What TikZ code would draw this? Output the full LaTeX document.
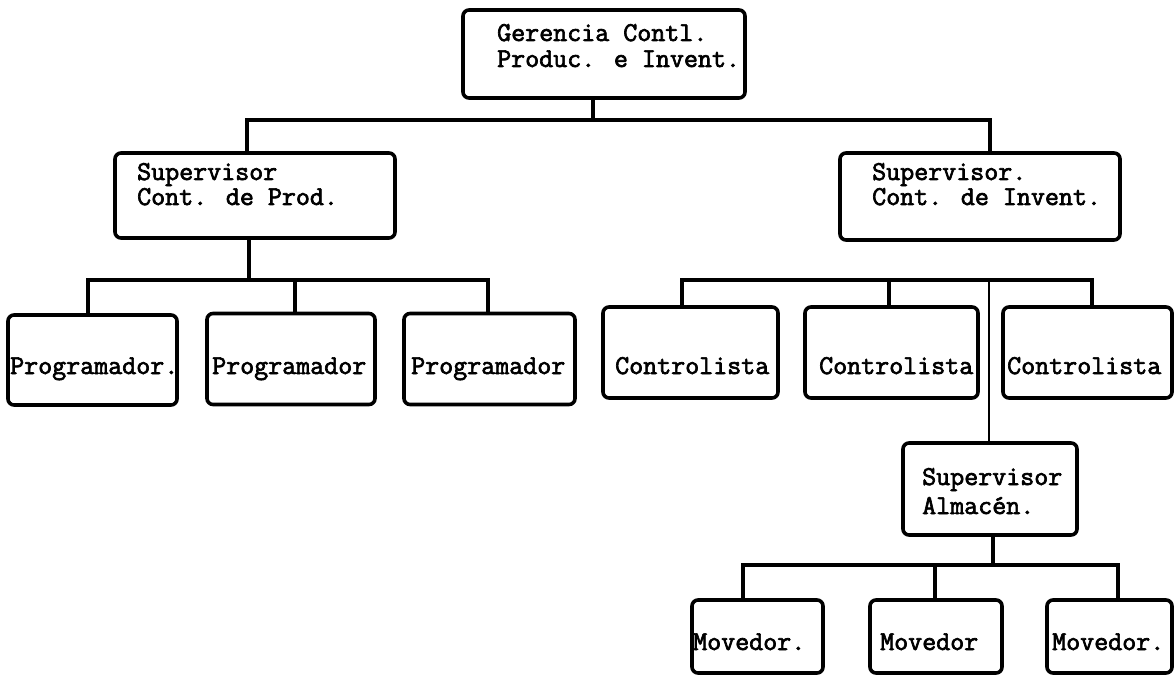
\documentclass[tikz,border=0pt]{standalone}
\usepackage{fontspec}
\newfontfamily\typew{Latin Modern Mono}[FakeBold=2.5]
\begin{document}
\begin{tikzpicture}[x=1pt,y=-1pt,
  box/.style={draw, line width=3.6pt, rounded corners=6pt, inner sep=0pt, line join=round},
  conn/.style={line width=3.3pt, line join=miter},
  lbl/.style={anchor=base west, inner sep=0pt,
    font=\typew\fontsize{27.2}{30}\selectfont}]
  \useasboundingbox (0,0) rectangle (1175,676);
  \fill[white] (0,0) rectangle (1175,676);

  % boxes: center, width, height
  \node[box, minimum width=282pt, minimum height=88pt] (top)  at (604,54) {};
  \node[box, minimum width=280pt, minimum height=85pt] (supL) at (255,195.5) {};
  \node[box, minimum width=280pt, minimum height=87pt] (supR) at (980,196.5) {};
  \node[box, minimum width=169pt, minimum height=90pt] (prog1) at (92.5,360) {};
  \node[box, minimum width=168pt, minimum height=91pt] (prog2) at (291,359) {};
  \node[box, minimum width=171pt, minimum height=91pt] (prog3) at (489.5,359) {};
  \node[box, minimum width=175pt, minimum height=91pt] (ctrl1) at (690.5,352.5) {};
  \node[box, minimum width=173pt, minimum height=91pt] (ctrl2) at (891.5,352.5) {};
  \node[box, minimum width=169pt, minimum height=91pt] (ctrl3) at (1087.5,352.5) {};
  \node[box, minimum width=174pt, minimum height=92pt] (alm)  at (990,489) {};
  \node[box, minimum width=131pt, minimum height=73pt] (mov1) at (757.5,636.5) {};
  \node[box, minimum width=132pt, minimum height=73pt] (mov2) at (936,636.5) {};
  \node[box, minimum width=125pt, minimum height=73pt] (mov3) at (1109.5,636.5) {};

  % labels
  \node[lbl] (topa) at (497,41) {Gerencia Contl.};
  \node[lbl] (topb) at (497,67) {Produc. e Invent.};
  \node[lbl] (supLa) at (137,180) {Supervisor};
  \node[lbl] (supLb) at (137,205) {Cont. de Prod.};
  \node[lbl] (supRa) at (872,180) {Supervisor.};
  \node[lbl] (supRb) at (872,205) {Cont. de Invent.};
  \node[lbl] (prog1t) at (10,374) {Programador.};
  \node[lbl] (prog2t) at (212,374) {Programador};
  \node[lbl] (prog3t) at (411,374) {Programador};
  \node[lbl] (ctrl1t) at (615,374) {Controlista};
  \node[lbl] (ctrl2t) at (819,374) {Controlista};
  \node[lbl] (ctrl3t) at (1007,374) {Controlista};
  \node[lbl] (alma) at (922,485) {Supervisor};
  \node[lbl] (almb) at (922,514) {Almacén.};
  \node[lbl] (mov1t) at (693,650) {Movedor.};
  \node[lbl] (mov2t) at (880,650) {Movedor};
  \node[lbl] (mov3t) at (1052,650) {Movedor.};

  % junction points
  \coordinate (j0) at (593,120);
  \coordinate (jL) at (247,120);
  \coordinate (jR) at (990,120);
  \coordinate (kL) at (249,280);
  \coordinate (p1) at (88,280);
  \coordinate (p2) at (295,280);
  \coordinate (p3) at (488,280);
  \coordinate (c1) at (682,280);
  \coordinate (c2) at (889,280);
  \coordinate (c3) at (1092,280);
  \coordinate (a0) at (989,280);
  \coordinate (m0) at (993,565);
  \coordinate (m1) at (743,565);
  \coordinate (m2) at (935,565);
  \coordinate (m3) at (1118,565);

  % top level
  \draw[conn] (top.south -| j0) -- (j0);
  \draw[conn] (supL.north -| jL) |- (jR) -- (supR.north -| jR);

  % production control
  \draw[conn] (supL.south -| kL) -- (kL);
  \draw[conn] (prog1.north -| p1) |- (p3) -- (prog3.north -| p3);
  \draw[conn] (p2) -- (prog2.north -| p2);

  % inventory control
  \draw[conn] (ctrl1.north -| c1) |- (c3) -- (ctrl3.north -| c3);
  \draw[conn] (c2) -- (ctrl2.north -| c2);
  \draw[line width=2.6pt] (a0) -- (alm.north -| a0);

  % warehouse
  \draw[conn] (alm.south -| m0) -- (m0);
  \draw[conn] (mov1.north -| m1) |- (m3) -- (mov3.north -| m3);
  \draw[conn] (m2) -- (mov2.north -| m2);
\end{tikzpicture}
\end{document}
